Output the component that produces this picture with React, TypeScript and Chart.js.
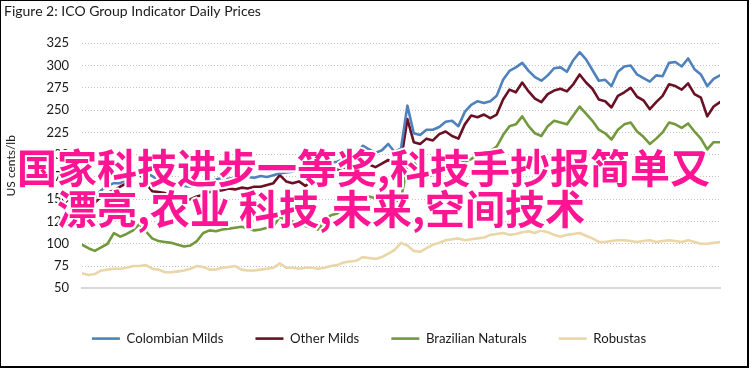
import React, { useEffect, useRef } from "react";
import { Chart, registerables } from "chart.js";

Chart.register(...registerables);

const TITLE = "Figure 2: ICO Group Indicator Daily Prices";
const Y_AXIS_TITLE = "US cents/lb";
const X_TICK_LABELS = ["Jul-20", "Oct-20", "Jan-21", "Apr-21", "Jul-21", "Oct-21", "Jan-22", "Apr-22", "Jul-22"];
const MONTHS_PER_TICK = 3;
const MONTHS_PER_SAMPLE = 0.25; // one reading every quarter month from 1 Jul 2020
const X_MAX_MONTHS = 25;
const Y_MIN = 50;
const Y_MAX = 325;
const Y_STEP = 25;

const SERIES_LABELS = ["Colombian Milds", "Other Milds", "Brazilian Naturals", "Robustas"];
const SERIES_COLORS = ["#4f81bd", "#6a1024", "#72993c", "#ead6a6"];

const COLOMBIAN_MILDS = [
  148, 146, 152, 160, 165, 168, 168, 172, 175, 179,
  180, 176, 172, 170, 168, 166, 165, 164, 166, 168,
  169, 172, 174, 173, 174, 175, 175, 174, 176, 175,
  177, 179, 180, 181, 183, 184, 187, 185, 189, 191,
  192, 195, 197, 201, 210, 206, 202, 205, 212, 203,
  207, 255, 224, 222, 228, 228, 231, 237, 238, 232,
  248, 256, 260, 258, 260, 266, 284, 294, 298, 303,
  294, 287, 283, 289, 297, 298, 293, 306, 315, 307,
  295, 283, 284, 277, 293, 299, 300, 290, 286, 282,
  289, 288, 303, 304, 299, 308, 296, 290, 277, 285,
  289,
];

const OTHER_MILDS = [
  142, 141, 146, 153, 157, 160, 164, 168, 175, 179,
  168, 159, 158, 157, 152, 149, 149, 150, 153, 155,
  158, 159, 160, 162, 161, 163, 162, 164, 164, 166,
  168, 177, 170, 168, 170, 165, 170, 175, 177, 180,
  183, 186, 185, 188, 192, 189, 186, 190, 194, 188,
  193, 240, 214, 212, 218, 216, 223, 226, 221, 218,
  234, 244, 242, 245, 241, 245, 262, 273, 270, 281,
  271, 263, 259, 268, 272, 274, 271, 279, 290, 281,
  274, 262, 260, 253, 266, 270, 275, 265, 261, 251,
  259, 266, 279, 277, 273, 280, 268, 264, 243, 254,
  259,
];

const BRAZILIAN_NATURALS = [
  99, 95, 92, 96, 100, 112, 108, 111, 115, 122,
  114, 106, 103, 102, 101, 99, 97, 98, 103, 112,
  115, 114, 116, 117, 118, 119, 117, 115, 116, 118,
  120, 130, 127, 125, 122, 120, 118, 116, 125, 132,
  134, 139, 144, 149, 153, 153, 151, 148, 143, 147,
  150, 188, 192, 180, 174, 178, 184, 189, 186, 190,
  192, 195, 200, 203, 204, 209, 222, 232, 234, 243,
  232, 224, 221, 232, 238, 236, 234, 244, 254, 246,
  238, 228, 224, 217, 228, 234, 236, 226, 220, 212,
  218, 225, 236, 234, 230, 235, 226, 218, 206, 214,
  214,
];

const ROBUSTAS = [
  67, 65, 66, 70, 71, 72, 72, 73, 75, 75,
  76, 72, 71, 68, 68, 69, 70, 72, 75, 74,
  71, 71, 73, 74, 75, 71, 70, 70, 71, 72,
  73, 78, 73, 73, 72, 73, 73, 72, 73, 75,
  76, 79, 80, 81, 85, 84, 83, 85, 89, 93,
  101, 98, 92, 91, 95, 99, 101, 104, 105, 106,
  104, 105, 106, 107, 110, 111, 112, 110, 111, 113,
  114, 112, 115, 113, 110, 108, 110, 111, 112, 109,
  106, 102, 102, 103, 104, 104, 103, 102, 103, 104,
  102, 103, 104, 103, 102, 104, 102, 100, 100, 101,
  102,
];

const SERIES_VALUES = [COLOMBIAN_MILDS, OTHER_MILDS, BRAZILIAN_NATURALS, ROBUSTAS];

const WATERMARK_LINES = ["国家科技进步一等奖,科技手抄报简单又", "漂亮,农业 科技,未来,空间技术"];

const FONT = "Lato, 'Open Sans', sans-serif";
const W = 751;
const H = 370;
const PLOT_BOTTOM = 288.3;
const LEGEND_PAD = 32;
const LEGEND_HEIGHT = 70;
const LEGEND_SHIFT = 7;
const LINE_WIDTH = 2.6;

export default function App() {
  const canvasRef = useRef<HTMLCanvasElement | null>(null);

  useEffect(() => {
    document.body.style.margin = "0";
    const canvas = canvasRef.current;
    if (!canvas) return;

    const legendFit = {
      id: "legendFit",
      afterInit(chart: any) {
        const legend = chart.legend;
        if (!legend) return;
        const orig = legend.fit;
        legend.fit = function () {
          orig.call(this);
          this.height = LEGEND_HEIGHT;
        };
      },
      afterLayout(chart: any) {
        const legend = chart.legend;
        if (!legend) return;
        legend.left += LEGEND_SHIFT;
        legend.right += LEGEND_SHIFT;
      },
    };

    const chart = new Chart(canvas, {
      type: "line",
      data: {
        datasets: SERIES_VALUES.map((vals, s) => ({
          label: SERIES_LABELS[s],
          data: vals.map((v, i) => ({ x: i * MONTHS_PER_SAMPLE, y: v })),
          borderColor: SERIES_COLORS[s],
          backgroundColor: SERIES_COLORS[s],
          borderWidth: LINE_WIDTH,
          borderJoinStyle: "round",
          borderCapStyle: "round",
          pointBorderWidth: LINE_WIDTH,
          pointStyle: false,
          pointRadius: 0,
          pointHoverRadius: 0,
          tension: 0,
          fill: false,
        })),
      },
      options: {
        animation: false,
        responsive: false,
        maintainAspectRatio: false,
        events: [],
        layout: { padding: { left: 4, right: 31, top: 0, bottom: 0 } },
        plugins: {
          title: {
            display: true,
            text: TITLE,
            align: "start",
            color: "#1a1a1a",
            font: { family: FONT, size: 14, weight: "normal" },
            padding: { top: 3, bottom: 23.5 },
          },
          legend: {
            display: true,
            position: "bottom",
            labels: {
              usePointStyle: true,
              pointStyle: "line",
              pointStyleWidth: 28,
              padding: LEGEND_PAD,
              color: "#1a1a1a",
              font: { family: FONT, size: 13.2 },
            },
          },
          tooltip: { enabled: false },
        },
        scales: {
          x: {
            type: "linear",
            min: 0,
            max: X_MAX_MONTHS,
            afterBuildTicks: (scale: any) => {
              scale.ticks = X_TICK_LABELS.map((_, i) => ({ value: i * MONTHS_PER_TICK }));
            },
            afterFit: (scale: any) => {
              scale.height = H - LEGEND_HEIGHT - PLOT_BOTTOM;
            },
            ticks: {
              autoSkip: false,
              maxRotation: 0,
              padding: 11,
              color: "#1a1a1a",
              font: { family: FONT, size: 13 },
              callback: (v: any) => X_TICK_LABELS[Math.round(Number(v) / MONTHS_PER_TICK)] ?? "",
            },
            grid: { display: false, drawTicks: false },
            border: { display: true, color: "#d9d9d9", width: 2 },
          },
          y: {
            min: Y_MIN,
            max: Y_MAX,
            afterFit: (scale: any) => {
              scale.width = 78;
            },
            ticks: {
              stepSize: Y_STEP,
              padding: 13,
              color: "#1a1a1a",
              font: { family: FONT, size: 13 },
            },
            grid: { color: "#c4c4c4", lineWidth: 1, drawTicks: false },
            border: { display: false, dash: [1, 2] },
            title: {
              display: true,
              text: Y_AXIS_TITLE,
              color: "#1a1a1a",
              font: { family: FONT, size: 12 },
              padding: { top: 0, bottom: 0 },
            },
          },
        },
      },
      plugins: [legendFit],
    } as any);

    return () => chart.destroy();
  }, []);

  const shadow =
    "2px 0 #fff, -2px 0 #fff, 0 2px #fff, 0 -2px #fff, 1.5px 1.5px #fff, -1.5px -1.5px #fff, 1.5px -1.5px #fff, -1.5px 1.5px #fff";
  const wmStyle: React.CSSProperties = {
    position: "absolute",
    whiteSpace: "pre",
    fontFamily: "'Noto Sans CJK SC', sans-serif",
    fontWeight: 700,
    fontSize: 40,
    lineHeight: "40px",
    color: "#ff1493",
    textShadow: shadow,
    pointerEvents: "none",
  };

  return (
    <div style={{ position: "relative", width: W, height: H, background: "#fff", overflow: "hidden" }}>
      <canvas ref={canvasRef} width={W} height={H} style={{ position: "absolute", left: 0, top: 0, width: W, height: H }} />
      <div style={{ ...wmStyle, left: 17, top: 146 }}>{WATERMARK_LINES[0]}</div>
      <div style={{ ...wmStyle, left: 57, top: 187 }}>{WATERMARK_LINES[1]}</div>
      <div
        style={{
          position: "absolute",
          left: 0,
          top: 0,
          width: 749,
          height: 368,
          boxSizing: "border-box",
          borderLeft: "1px solid #000",
          borderTop: "1px solid #000",
          borderRight: "2px solid #000",
          borderBottom: "2px solid #000",
          pointerEvents: "none",
        }}
      />
    </div>
  );
}
